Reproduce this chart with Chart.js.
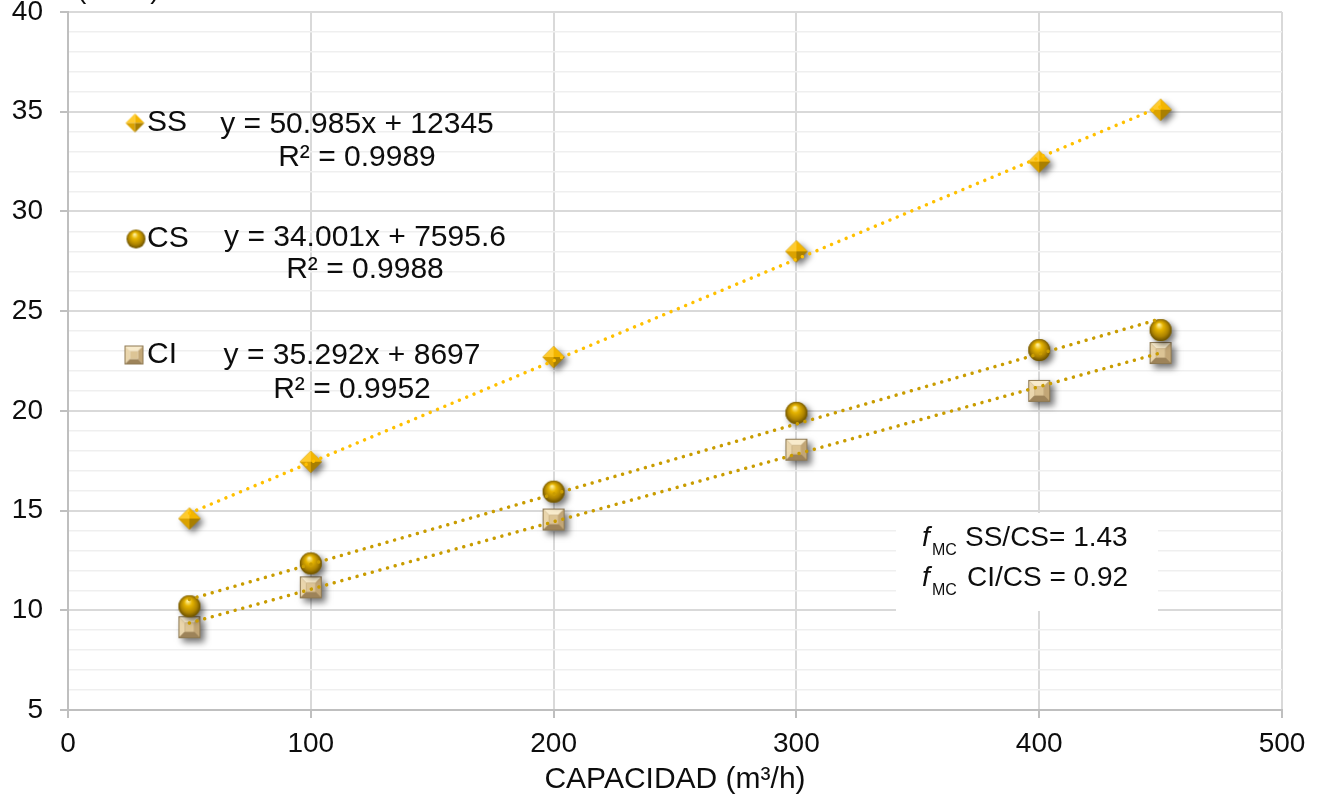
<!DOCTYPE html>
<html>
<head>
<meta charset="utf-8">
<script src="https://cdn.jsdelivr.net/npm/chart.js@4"></script>
<style>
  html, body { margin: 0; padding: 0; background: #fff; }
  canvas { display: block; }
</style>
</head>
<body>
<canvas id="capChart" width="1320" height="804"></canvas>
<script>
// data (y in thousands)
const capacidad = [50, 100, 200, 300, 400, 450];
const costeSS = [14.6, 17.45, 22.7, 28.0, 32.5, 35.1];
const costeCS = [10.2, 12.35, 15.95, 19.9, 23.05, 24.05];
const costeCI = [9.15, 11.15, 14.55, 18.05, 21.0, 22.9];

const xTickLabels = [0, 100, 200, 300, 400, 500];
const yTickLabels = [5, 10, 15, 20, 25, 30, 35, 40];

const legendNames = ['SS', 'CS', 'CI'];
const equationLines = ['y = 50.985x + 12345', 'y = 34.001x + 7595.6', 'y = 35.292x + 8697'];
const r2Lines = ['R² = 0.9989', 'R² = 0.9988', 'R² = 0.9952'];
const ratioLabels = ['SS/CS= 1.43', 'CI/CS = 0.92'];

const FONT = "'Liberation Sans', Arial, sans-serif";
const TEXT = '#0d0d0d';

// least squares line over the series, drawn from first to last x (like Excel)
function trendline(xs, ys) {
    const n = xs.length;
    const mx = xs.reduce((a, b) => a + b, 0) / n;
    const my = ys.reduce((a, b) => a + b, 0) / n;
    let sxy = 0, sxx = 0;
    xs.forEach((x, i) => {
        sxy += (x - mx) * (ys[i] - my);
        sxx += (x - mx) * (x - mx);
    });
    const b = sxy / sxx;
    const a = my - b * mx;
    return [{ x: xs[0], y: a + b * xs[0] }, { x: xs[n - 1], y: a + b * xs[n - 1] }];
}

function toPoints(xs, ys) {
    return xs.map((x, i) => ({ x: x, y: ys[i] }));
}

// 3D-looking marker images
function poly(g, pts, color) {
    g.beginPath();
    g.moveTo(pts[0][0], pts[0][1]);
    for (let i = 1; i < pts.length; i++) g.lineTo(pts[i][0], pts[i][1]);
    g.closePath();
    g.fillStyle = color;
    g.fill();
}

function shapePath(g, kind, c, h) {
    g.beginPath();
    if (kind === 'diamond') {
        g.moveTo(c, c - h); g.lineTo(c + h, c); g.lineTo(c, c + h); g.lineTo(c - h, c);
        g.closePath();
    } else if (kind === 'sphere') {
        g.arc(c, c, h, 0, Math.PI * 2);
    } else {
        g.rect(c - h, c - h, h * 2, h * 2);
    }
}

function makeMarker(kind, size, withShadow) {
    const pad = Math.round(size * 0.55);
    const cv = document.createElement('canvas');
    cv.width = cv.height = size + pad * 2;
    const g = cv.getContext('2d');
    const c = cv.width / 2, h = size / 2;

    if (withShadow) {
        g.save();
        g.shadowColor = 'rgba(0,0,0,0.55)';
        g.shadowBlur = size * 0.3;
        g.shadowOffsetX = size * 0.16;
        g.shadowOffsetY = size * 0.16;
        g.fillStyle = kind === 'square' ? '#9c8660' : '#a07a00';
        shapePath(g, kind, c, h);
        g.fill();
        g.restore();
    }

    if (kind === 'diamond') {
        const T = [c, c - h], R = [c + h, c], B = [c, c + h], L = [c - h, c], C = [c, c];
        poly(g, [T, L, C], '#ffcb2e');
        poly(g, [T, R, C], '#f3b500');
        poly(g, [B, L, C], '#dba200');
        poly(g, [B, R, C], '#a97f00');
    } else if (kind === 'sphere') {
        const grad = g.createRadialGradient(c - h * 0.15, c - h * 0.5, h * 0.05, c, c, h * 1.05);
        grad.addColorStop(0, '#fff1a0');
        grad.addColorStop(0.3, '#e6b400');
        grad.addColorStop(0.7, '#ad8300');
        grad.addColorStop(1, '#5f4800');
        shapePath(g, kind, c, h);
        g.fillStyle = grad;
        g.fill();
    } else {
        // bevelled square: outer frame facets around a flat centre
        const k = h * 0.42;
        const TL = [c - h, c - h], TR = [c + h, c - h], BR = [c + h, c + h], BL = [c - h, c + h];
        const tl = [c - k, c - k], tr = [c + k, c - k], br = [c + k, c + k], bl = [c - k, c + k];
        poly(g, [TL, TR, tr, tl], '#f8ebcc');
        poly(g, [TL, BL, bl, tl], '#ead6ad');
        poly(g, [TR, BR, br, tr], '#c2a676');
        poly(g, [BL, BR, br, bl], '#9d8359');
        poly(g, [tl, tr, br, bl], '#dcc495');
        g.strokeStyle = '#8e7952';
        g.lineWidth = 1;
        g.strokeRect(c - h + 0.5, c - h + 0.5, h * 2 - 1, h * 2 - 1);
    }
    return cv;
}

const markerKinds = ['diamond', 'sphere', 'square'];
const plotMarkers = markerKinds.map(k => makeMarker(k, 22, true));
const legendMarkers = markerKinds.map(k => makeMarker(k, 19, false));

// legend, trendline labels, axis caption and ratio box
const annotationsPlugin = {
    id: 'annotations',
    beforeDatasetsDraw(chart) {
        const g = chart.ctx;
        g.save();
        g.fillStyle = '#fff';
        g.fillRect(896, 513, 262, 98);
        g.restore();
    },
    afterDraw(chart) {
        const g = chart.ctx;
        g.save();
        g.fillStyle = TEXT;

        // cut-off y axis caption at the very top
        g.font = `28px ${FONT}`;
        g.textAlign = 'left';
        g.textBaseline = 'alphabetic';
        g.fillText('(10³ €)', 77, -2);

        // legend entries
        const rowY = [123, 239, 355];
        const markX = [135, 136, 134];
        g.font = `30px ${FONT}`;
        g.textBaseline = 'middle';
        legendNames.forEach((name, i) => {
            const m = legendMarkers[i];
            g.drawImage(m, markX[i] - m.width / 2, rowY[i] - m.height / 2);
            g.textAlign = 'left';
            g.fillText(name, 147, rowY[i]);
        });

        // trendline equations
        const eqPos = [[357, 125, 158], [365, 238, 270], [352, 356, 390]];
        g.textAlign = 'center';
        equationLines.forEach((txt, i) => {
            g.fillText(txt, eqPos[i][0], eqPos[i][1]);
            g.fillText(r2Lines[i], eqPos[i][0], eqPos[i][2]);
        });

        // ratio box text
        const boxY = [538, 578];
        ratioLabels.forEach((txt, i) => {
            g.textAlign = 'left';
            g.font = `italic 28px ${FONT}`;
            g.fillText('f', 922, boxY[i]);
            g.font = `16px ${FONT}`;
            g.fillText('MC', 932, boxY[i] + 13);
            g.font = `28px ${FONT}`;
            g.fillText(txt, i === 0 ? 965 : 967, boxY[i]);
        });
        g.restore();
    }
};

const isMajorY = ctx => ctx.tick && yTickLabels.includes(ctx.tick.value);

const ctx = document.getElementById('capChart').getContext('2d');
new Chart(ctx, {
    type: 'scatter',
    data: {
        datasets: [
            {
                label: 'SS',
                data: toPoints(capacidad, costeSS),
                pointStyle: plotMarkers[0],
                pointRadius: 11,
                order: 2
            },
            {
                label: 'CS',
                data: toPoints(capacidad, costeCS),
                pointStyle: plotMarkers[1],
                pointRadius: 11,
                order: 2
            },
            {
                label: 'CI',
                data: toPoints(capacidad, costeCI),
                pointStyle: plotMarkers[2],
                pointRadius: 11,
                order: 2
            },
            {
                type: 'line',
                label: 'SS trend',
                data: trendline(capacidad, costeSS),
                borderColor: '#ffc000',
                borderWidth: 3.5,
                borderDash: [0.01, 7.9],
                borderCapStyle: 'round',
                pointRadius: 0,
                fill: false,
                order: 0
            },
            {
                type: 'line',
                label: 'CS trend',
                data: trendline(capacidad, costeCS),
                borderColor: '#c99c00',
                borderWidth: 3.5,
                borderDash: [0.01, 7.9],
                borderCapStyle: 'round',
                pointRadius: 0,
                fill: false,
                order: 0
            },
            {
                type: 'line',
                label: 'CI trend',
                data: trendline(capacidad, costeCI),
                borderColor: '#c99c00',
                borderWidth: 3.5,
                borderDash: [0.01, 7.9],
                borderCapStyle: 'round',
                pointRadius: 0,
                fill: false,
                order: 0
            }
        ]
    },
    options: {
        responsive: false,
        animation: false,
        layout: { padding: { top: 10, right: 38, left: 0, bottom: 0 } },
        plugins: {
            legend: { display: false },
            tooltip: { enabled: false }
        },
        scales: {
            x: {
                type: 'linear',
                min: xTickLabels[0],
                max: xTickLabels[xTickLabels.length - 1],
                ticks: {
                    stepSize: 100,
                    color: TEXT,
                    font: { family: FONT, size: 28 },
                    padding: 9,
                    maxRotation: 0,
                    callback: v => xTickLabels.includes(v) ? String(v) : ''
                },
                grid: {
                    color: '#d9d9d9',
                    lineWidth: 2,
                    tickColor: '#bfbfbf',
                    tickLength: 8
                },
                border: { color: '#bfbfbf', width: 2 },
                title: {
                    display: true,
                    text: 'CAPACIDAD (m³/h)',
                    color: TEXT,
                    font: { family: FONT, size: 30 },
                    padding: { top: 0, bottom: 6 }
                },
                afterFit(scale) {
                    scale.height = 94;
                    scale.paddingLeft = 0;
                    scale.paddingRight = 0;
                }
            },
            y: {
                type: 'linear',
                min: yTickLabels[0],
                max: yTickLabels[yTickLabels.length - 1],
                ticks: {
                    stepSize: 1,
                    autoSkip: false,
                    color: TEXT,
                    font: { family: FONT, size: 28 },
                    padding: 17,
                    callback: v => yTickLabels.includes(v) ? String(v) : ''
                },
                grid: {
                    color: c => isMajorY(c) ? '#d9d9d9' : '#efefef',
                    lineWidth: c => isMajorY(c) ? 2 : 1.5,
                    tickColor: c => isMajorY(c) ? '#bfbfbf' : 'rgba(0,0,0,0)',
                    tickLength: 8
                },
                border: { color: '#bfbfbf', width: 2 },
                afterFit(scale) {
                    scale.width = 68;
                    scale.paddingTop = 0;
                    scale.paddingBottom = 0;
                }
            }
        }
    },
    plugins: [annotationsPlugin]
});
</script>
</body>
</html>
